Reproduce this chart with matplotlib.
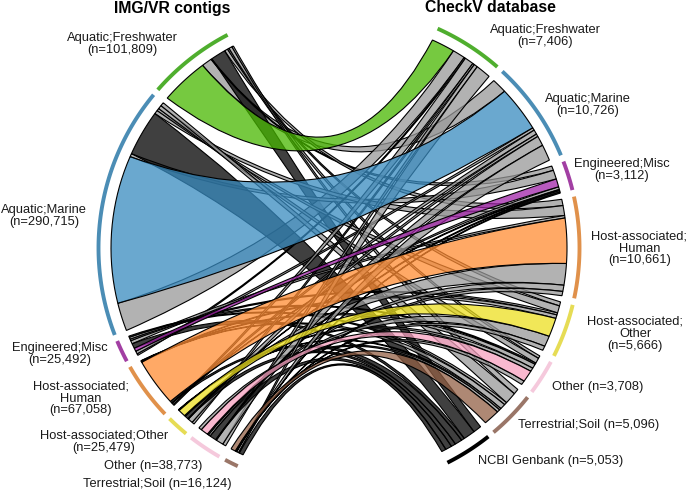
import numpy as np
import matplotlib
matplotlib.use('Agg')
import matplotlib.pyplot as plt
from matplotlib.path import Path
from matplotlib.patches import PathPatch

plt.rcParams['font.family'] = ['Liberation Sans', 'DejaVu Sans']

# contigs per environment (left), genomes per environment (right)
left_names = ['Aquatic;Freshwater', 'Aquatic;Marine', 'Engineered;Misc', 'Host-associated;Human',
              'Host-associated;Other', 'Other', 'Terrestrial;Soil']
left_n = [101809, 290715, 25492, 67058, 25479, 38773, 16124]
right_names = ['Aquatic;Freshwater', 'Aquatic;Marine', 'Engineered;Misc', 'Host-associated;Human',
               'Host-associated;Other', 'Other', 'Terrestrial;Soil', 'NCBI Genbank']
right_n = [7406, 10726, 3112, 10661, 5666, 3708, 5096, 5053]

# share of each left sector that goes to each right sector (rows left, columns right)
left_flow = [
    [58000, 12500, 1000, 4000, 2000, 4000, 2009, 18300],
    [34300, 180115, 3900, 4500, 3000, 4500, 4400, 56000],
    [2000, 3500, 4000, 4000, 2000, 2500, 1492, 6000],
    [1500, 2000, 500, 58400, 800, 800, 558, 2500],
    [3000, 6000, 700, 1000, 9000, 700, 579, 4500],
    [4000, 9000, 1000, 2500, 1500, 9000, 3773, 8000],
    [1000, 2500, 300, 600, 500, 400, 5824, 5000],
]
# share of each right sector that comes from each left sector
right_flow = [
    [2580, 1660, 500, 700, 450, 300, 600, 900],
    [1400, 5070, 1000, 1100, 800, 600, 1300, 1300],
    [150, 300, 900, 285, 230, 150, 300, 350],
    [1000, 500, 300, 5000, 400, 500, 600, 800],
    [200, 300, 130, 2400, 2086, 400, 200, 500],
    [400, 1100, 150, 700, 1200, 1300, 320, 700],
    [1676, 1796, 132, 476, 500, 458, 1776, 503],
]
# order of the ribbons on the left, from the bottom of a sector upwards
left_order = [[0, 1, 2, 7, 3, 4, 5, 6]] * 6 + [[7, 0, 1, 2, 3, 4, 5, 6]]

ribbon_colors = ['#48b700', '#388bc0', '#a123a8', '#ff8c33', '#ede020', '#f7a1c0', '#936045']
arc_colors = ['#4fae2e', '#4b8db5', '#a23fa3', '#e0914b', '#e6dc55', '#f5c9dc', '#9a7668', '#000000']

CX, CY = 339.0, 248.0
R_IN, R_OUT = 228.0, 240.5
BEND = 0.14


def xy(angle, r):
    a = np.radians(angle)
    return CX + r * np.cos(a), CY - r * np.sin(a)


def sector_angles(sizes, start, end, gap):
    """Sectors are laid out from start to end, sized by n."""
    sign = 1 if end > start else -1
    scale = (abs(end - start) - gap * (len(sizes) - 1)) / sum(sizes)
    spans = []
    pos = start
    for s in sizes:
        spans.append((pos, pos + sign * s * scale))
        pos += sign * (s * scale + gap)
    return spans, scale


def control(p, q):
    mx, my = (p[0] + q[0]) / 2, (p[1] + q[1]) / 2
    return CX + BEND * (mx - CX), CY + BEND * (my - CY)


def ribbon_path(l_top, l_bot, r_top, r_bot):
    verts, codes = [], []
    p0, p1 = xy(l_top, R_IN), xy(r_top, R_IN)
    verts += [p0, control(p0, p1), p1]
    codes += [Path.MOVETO, Path.CURVE3, Path.CURVE3]
    for a in np.linspace(r_top, r_bot, 12)[1:]:
        verts.append(xy(a, R_IN))
        codes.append(Path.LINETO)
    p2, p3 = xy(r_bot, R_IN), xy(l_bot, R_IN)
    verts += [control(p2, p3), p3]
    codes += [Path.CURVE3, Path.CURVE3]
    for a in np.linspace(l_bot, l_top, 20)[1:]:
        verts.append(xy(a, R_IN))
        codes.append(Path.LINETO)
    return Path(verts, codes)


fig = plt.figure(figsize=(6.88, 4.92), dpi=100)
ax = fig.add_axes([0, 0, 1, 1])
ax.set_xlim(0, 688)
ax.set_ylim(492, 0)
ax.axis('off')

left_spans, left_scale = sector_angles(left_n, 117.6, 245.1, 1.55)
right_spans, right_scale = sector_angles(right_n, 65.8, -63.2, 1.6)

# --- positions of every ribbon end ---
left_ends = {}
for i, (top, bot) in enumerate(left_spans):
    pos = bot
    for j in left_order[i]:
        w = left_flow[i][j] * left_scale
        left_ends[(i, j)] = (pos - w, pos)
        pos -= w

right_ends = {}
for j, (top, bot) in enumerate(right_spans):
    pos = top
    for i in range(len(left_n)):
        w = right_flow[i][j] * right_scale
        right_ends[(i, j)] = (pos, pos - w)
        pos -= w

# grey and dark first, matching environments on top
pairs = [(i, j) for i in range(7) for j in range(8) if i != j]
pairs += [(i, i) for i in range(7)]
for i, j in pairs:
    l_top, l_bot = left_ends[(i, j)]
    r_top, r_bot = right_ends[(i, j)]
    if i == j:
        face = ribbon_colors[i]
    elif j == 7:
        face = '#000000'
    else:
        face = '#999999'
    rgba = matplotlib.colors.to_rgba(face, 0.75)
    ax.add_patch(PathPatch(ribbon_path(l_top, l_bot, r_top, r_bot), facecolor=rgba,
                           edgecolor='black', linewidth=0.8))

# --- outer arcs ---
for spans, colors in [(left_spans, arc_colors), (right_spans, arc_colors)]:
    for k, (a0, a1) in enumerate(spans):
        px, py = xy(np.linspace(a0, a1, 60), R_OUT)
        ax.plot(px, py, color=colors[k], linewidth=2.8, solid_capstyle='butt')

fs = 9.3
ax.text(172, 8, 'IMG/VR contigs', fontsize=11.3, fontweight='bold', ha='center', va='center')
ax.text(490.5, 8, 'CheckV database', fontsize=11.3, fontweight='bold', ha='center', va='center')

label_style = dict(fontsize=fs, ha='center', va='center', linespacing=1.0, color='#1a1a1a')
ax.text(122.5, 44.5, f'{left_names[0]}\n(n={left_n[0]:,})', **label_style)
ax.text(44, 216, f'{left_names[1]}\n(n={left_n[1]:,})', **label_style)
ax.text(60, 353.5, f'{left_names[2]}\n(n={left_n[2]:,})', **label_style)
ax.text(81, 398.5, f'Host-associated;\nHuman\n(n={left_n[3]:,})', **label_style)
ax.text(104, 442, f'{left_names[4]}\n(n={left_n[4]:,})', **label_style)
ax.text(153, 466, f'{left_names[5]} (n={left_n[5]:,})', **label_style)
ax.text(157.5, 484.5, f'{left_names[6]} (n={left_n[6]:,})', **label_style)

ax.text(545, 36, f'{right_names[0]}\n(n={right_n[0]:,})', **label_style)
ax.text(588, 105, f'{right_names[1]}\n(n={right_n[1]:,})', **label_style)
ax.text(622, 170, f'{right_names[2]}\n(n={right_n[2]:,})', **label_style)
ax.text(639.5, 248.5, f'Host-associated;\nHuman\n(n={right_n[3]:,})', **label_style)
ax.text(635, 334, f'Host-associated;\nOther\n(n={right_n[4]:,})', **label_style)
ax.text(598, 387, f'{right_names[5]} (n={right_n[5]:,})', **label_style)
ax.text(589, 425, f'{right_names[6]} (n={right_n[6]:,})', **label_style)
ax.text(551, 461, f'{right_names[7]} (n={right_n[7]:,})', **label_style)

fig.savefig('out.png', dpi=100)
